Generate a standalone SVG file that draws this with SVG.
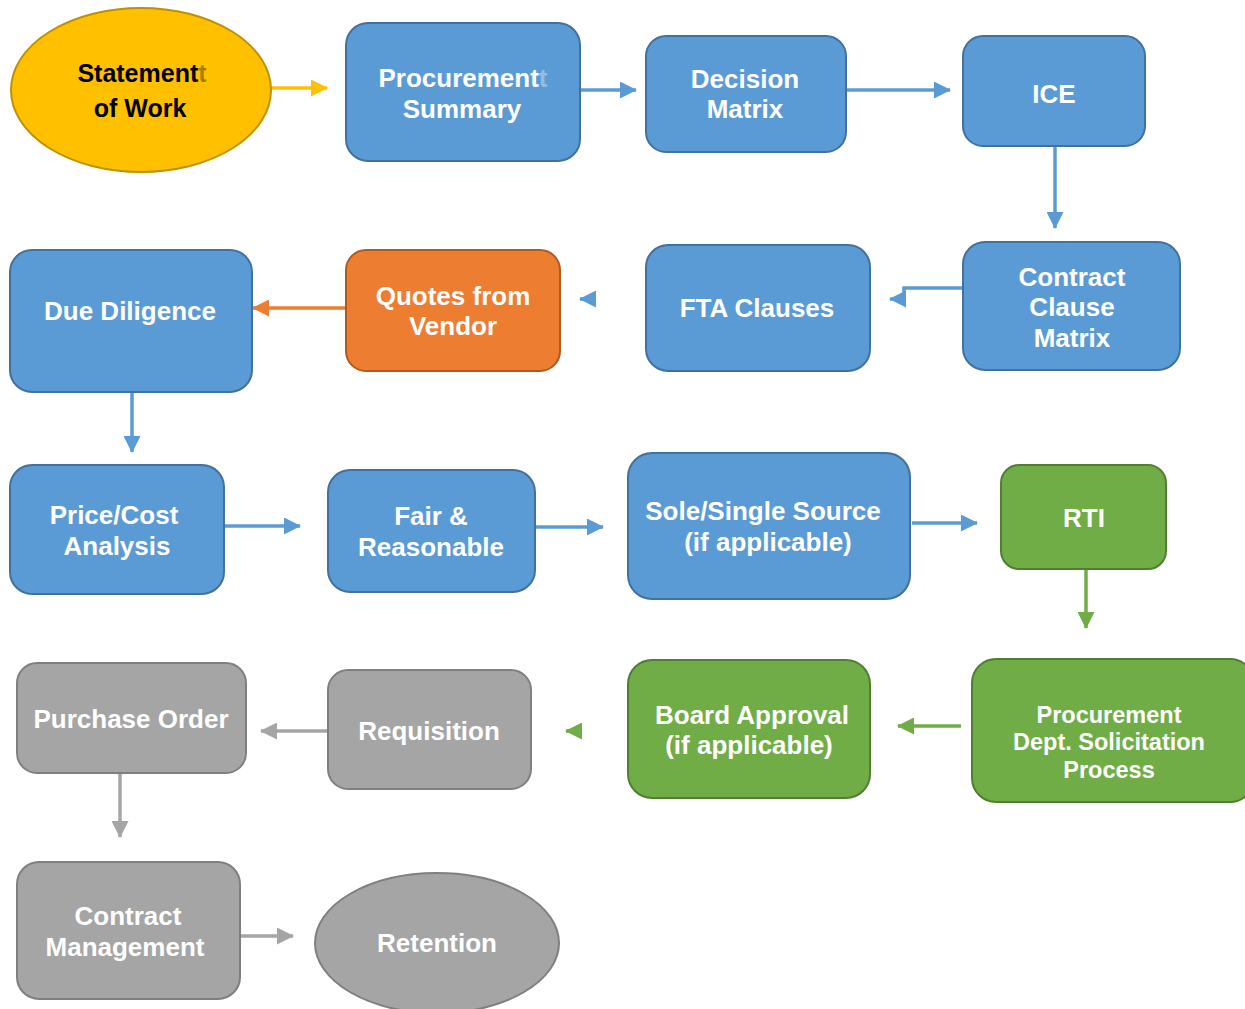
<svg xmlns="http://www.w3.org/2000/svg" width="1245" height="1009" viewBox="0 0 1245 1009">
<defs>
<style>
.t{font-family:"Liberation Sans",Arial,sans-serif;font-weight:bold;font-size:26px;fill:#fff;text-anchor:middle}
.tb{fill:#000;font-size:25px}
.sm{font-size:23.5px}
.blue{fill:#5B9BD5;stroke:#41719C;stroke-width:2}
.orange{fill:#ED7D31;stroke:#AE5A21;stroke-width:2}
.green{fill:#70AD47;stroke:#507E32;stroke-width:2}
.gray{fill:#A5A5A5;stroke:#7F7F7F;stroke-width:2}
.gold{fill:#FFC000;stroke:#BF9000;stroke-width:2}
.c{fill:none;stroke-width:3.5}
.cb{stroke:#5B9BD5}
.co{stroke:#ED7D31}
.cg{stroke:#70AD47}
.cy{stroke:#A5A5A5}
.cgold{stroke:#FFC000}
</style>
<marker id="ab" markerUnits="userSpaceOnUse" markerWidth="17" markerHeight="17" refX="16" refY="8.5" orient="auto"><path d="M0,0 L17,8.5 L0,17 Z" fill="#5B9BD5"/></marker>
<marker id="ao" markerUnits="userSpaceOnUse" markerWidth="17" markerHeight="17" refX="16" refY="8.5" orient="auto"><path d="M0,0 L17,8.5 L0,17 Z" fill="#ED7D31"/></marker>
<marker id="ag" markerUnits="userSpaceOnUse" markerWidth="17" markerHeight="17" refX="16" refY="8.5" orient="auto"><path d="M0,0 L17,8.5 L0,17 Z" fill="#70AD47"/></marker>
<marker id="ay" markerUnits="userSpaceOnUse" markerWidth="17" markerHeight="17" refX="16" refY="8.5" orient="auto"><path d="M0,0 L17,8.5 L0,17 Z" fill="#A5A5A5"/></marker>
<marker id="agold" markerUnits="userSpaceOnUse" markerWidth="17" markerHeight="17" refX="16" refY="8.5" orient="auto"><path d="M0,0 L17,8.5 L0,17 Z" fill="#FFC000"/></marker>
</defs>
<rect width="1245" height="1009" fill="#fff"/>

<g id="connectors">
<path class="c cgold" d="M271,88 H327" marker-end="url(#agold)"/>
<path class="c cb" d="M580,90 H636" marker-end="url(#ab)"/>
<path class="c cb" d="M846,90 H950" marker-end="url(#ab)"/>
<path class="c cb" d="M1055,146 V228" marker-end="url(#ab)"/>
<path class="c cb" d="M963,288 H904 V299 H890" marker-end="url(#ab)"/>
<path class="c cb" d="M594,299 H580" stroke-width="0" marker-end="url(#ab)"/>
<path class="c co" d="M346,308 H253" marker-end="url(#ao)"/>
<path class="c cb" d="M132,392 V452" marker-end="url(#ab)"/>
<path class="c cb" d="M224,526 H300" marker-end="url(#ab)"/>
<path class="c cb" d="M535,527 H603" marker-end="url(#ab)"/>
<path class="c cb" d="M912,523 H977" marker-end="url(#ab)"/>
<path class="c cg" d="M1086,569 V628" marker-end="url(#ag)"/>
<path class="c cg" d="M961,726 H898" marker-end="url(#ag)"/>
<path class="c cg" d="M581,731 H566" stroke-width="0" marker-end="url(#ag)"/>
<path class="c cy" d="M328,731 H261" marker-end="url(#ay)"/>
<path class="c cy" d="M120,773 V837" marker-end="url(#ay)"/>
<path class="c cy" d="M240,936 H293" marker-end="url(#ay)"/>
</g>

<g id="statement-of-work">
<ellipse class="gold" cx="141" cy="90" rx="130" ry="82"/>
<text class="t tb" x="142" y="82">Statement<tspan fill-opacity="0.35">t</tspan></text>
<text class="t tb" x="140" y="117">of Work</text>
</g>
<g id="procurement-summary">
<rect class="blue" x="346" y="23" width="234" height="138" rx="22"/>
<text class="t" x="463" y="87">Procurement<tspan fill-opacity="0.35">t</tspan></text>
<text class="t" x="462" y="118">Summary</text>
</g>
<g id="decision-matrix">
<rect class="blue" x="646" y="36" width="200" height="116" rx="20"/>
<text class="t" x="745" y="88">Decision</text>
<text class="t" x="745" y="118">Matrix</text>
</g>
<g id="ice">
<rect class="blue" x="963" y="36" width="182" height="110" rx="20"/>
<text class="t" x="1054" y="103">ICE</text>
</g>
<g id="contract-clause-matrix">
<rect class="blue" x="963" y="242" width="217" height="128" rx="22"/>
<text class="t" x="1072" y="286">Contract</text>
<text class="t" x="1072" y="316">Clause</text>
<text class="t" x="1072" y="347">Matrix</text>
</g>
<g id="fta-clauses">
<rect class="blue" x="646" y="245" width="224" height="126" rx="22"/>
<text class="t" x="757" y="317">FTA Clauses</text>
</g>
<g id="quotes-from-vendor">
<rect class="orange" x="346" y="250" width="214" height="121" rx="20"/>
<text class="t" x="453" y="305">Quotes from</text>
<text class="t" x="453" y="335">Vendor</text>
</g>
<g id="due-diligence">
<rect class="blue" x="10" y="250" width="242" height="142" rx="22"/>
<text class="t" x="130" y="320">Due Diligence</text>
</g>
<g id="price-cost-analysis">
<rect class="blue" x="10" y="465" width="214" height="129" rx="22"/>
<text class="t" x="114" y="524">Price/Cost</text>
<text class="t" x="117" y="555">Analysis</text>
</g>
<g id="fair-reasonable">
<rect class="blue" x="328" y="470" width="207" height="122" rx="22"/>
<text class="t" x="431" y="525">Fair &amp;</text>
<text class="t" x="431" y="556">Reasonable</text>
</g>
<g id="sole-single-source">
<rect class="blue" x="628" y="453" width="282" height="146" rx="24"/>
<text class="t" x="763" y="520">Sole/Single Source</text>
<text class="t" x="768" y="551">(if applicable)</text>
</g>
<g id="rti">
<rect class="green" x="1001" y="465" width="165" height="104" rx="18"/>
<text class="t" x="1084" y="527">RTI</text>
</g>
<g id="procurement-dept-solicitation">
<rect class="green" x="972" y="659" width="282" height="143" rx="24"/>
<text class="t sm" x="1109" y="723">Procurement</text>
<text class="t sm" x="1109" y="750">Dept. Solicitation</text>
<text class="t sm" x="1109" y="778">Process</text>
</g>
<g id="board-approval">
<rect class="green" x="628" y="660" width="242" height="138" rx="24"/>
<text class="t" x="752" y="724">Board Approval</text>
<text class="t" x="749" y="754">(if applicable)</text>
</g>
<g id="requisition">
<rect class="gray" x="328" y="670" width="203" height="119" rx="20"/>
<text class="t" x="429" y="740">Requisition</text>
</g>
<g id="purchase-order">
<rect class="gray" x="17" y="663" width="229" height="110" rx="20"/>
<text class="t" x="131" y="728">Purchase Order</text>
</g>
<g id="contract-management">
<rect class="gray" x="17" y="862" width="223" height="137" rx="22"/>
<text class="t" x="128" y="925">Contract</text>
<text class="t" x="125" y="956">Management</text>
</g>
<g id="retention">
<ellipse class="gray" cx="437" cy="943" rx="122" ry="70"/>
<text class="t" x="437" y="952">Retention</text>
</g>
</svg>
